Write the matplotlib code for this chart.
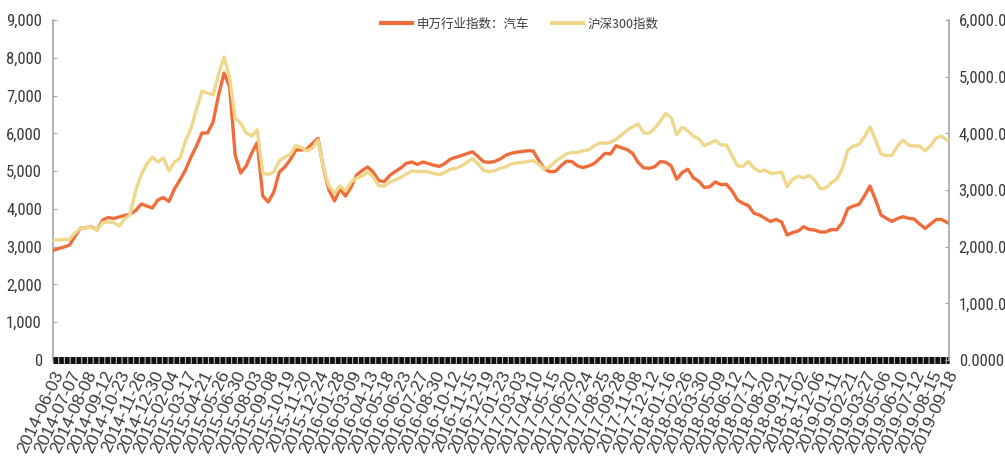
import numpy as np
import matplotlib
matplotlib.use("Agg")
import matplotlib.pyplot as plt
from matplotlib.lines import Line2D

plt.rcParams["lines.scale_dashes"] = False

# Category labels shown on the x axis (one every third sample)
date_labels = [
    "2014-06-03", "2014-07-07", "2014-08-08", "2014-09-12", "2014-10-23",
    "2014-11-26", "2014-12-30", "2015-02-04", "2015-03-17", "2015-04-21",
    "2015-05-26", "2015-06-30", "2015-08-03", "2015-09-08", "2015-10-19",
    "2015-11-20", "2015-12-24", "2016-01-28", "2016-03-09", "2016-04-13",
    "2016-05-18", "2016-06-23", "2016-07-27", "2016-08-30", "2016-10-12",
    "2016-11-15", "2016-12-19", "2017-01-23", "2017-03-03", "2017-04-10",
    "2017-05-15", "2017-06-20", "2017-07-24", "2017-08-25", "2017-09-28",
    "2017-11-08", "2017-12-12", "2018-01-16", "2018-02-26", "2018-03-30",
    "2018-05-09", "2018-06-12", "2018-07-17", "2018-08-20", "2018-09-21",
    "2018-11-02", "2018-12-06", "2019-01-11", "2019-02-21", "2019-03-27",
    "2019-05-06", "2019-06-10", "2019-07-12", "2019-08-15", "2019-09-18",
]
LABEL_EVERY = 3

# 申万行业指数：汽车 (left axis)
auto_index = [
    2898, 2951, 2991, 3044, 3282, 3494, 3507, 3521, 3441, 3706,
    3772, 3746, 3785, 3825, 3865, 3957, 4129, 4076, 4023, 4235,
    4301, 4196, 4526, 4765, 5029, 5373, 5665, 6009, 6009, 6300,
    7015, 7597, 7226, 5426, 4950, 5135, 5479, 5757, 4341, 4182,
    4447, 4976, 5109, 5307, 5559, 5559, 5585, 5731, 5868, 5082,
    4500, 4209, 4526, 4341, 4579, 4897, 5016, 5109, 4976, 4751,
    4720, 4884, 4990, 5082, 5207, 5241, 5175, 5241, 5201, 5154,
    5125, 5201, 5320, 5365, 5413, 5463, 5511, 5384, 5249, 5231,
    5252, 5320, 5416, 5471, 5500, 5519, 5540, 5532, 5281, 5061,
    4984, 4992, 5135, 5262, 5254, 5140, 5093, 5135, 5196, 5326,
    5471, 5453, 5673, 5617, 5572, 5471, 5233, 5087, 5074, 5114,
    5249, 5236, 5135, 4786, 4963, 5051, 4823, 4730, 4566, 4587,
    4714, 4640, 4653, 4481, 4235, 4148, 4084, 3883, 3838, 3748,
    3666, 3722, 3653, 3309, 3375, 3415, 3528, 3454, 3441, 3388,
    3388, 3454, 3446, 3640, 4010, 4076, 4116, 4341, 4606, 4248,
    3838, 3746, 3669, 3743, 3793, 3751, 3732, 3600, 3481, 3600,
    3719, 3719, 3640,
]

# 沪深300指数 (right axis)
csi300_index = [
    2118, 2118, 2126, 2130, 2241, 2329, 2338, 2338, 2294, 2426,
    2435, 2426, 2365, 2488, 2576, 3000, 3274, 3459, 3582, 3494,
    3565, 3335, 3494, 3559, 3865, 4085, 4429, 4747, 4712, 4676,
    5047, 5347, 4976, 4271, 4182, 4006, 3953, 4064, 3300, 3274,
    3318, 3512, 3582, 3626, 3789, 3750, 3688, 3741, 3882, 3388,
    3071, 2938, 3071, 2982, 3141, 3212, 3247, 3318, 3229, 3079,
    3067, 3141, 3176, 3221, 3282, 3335, 3326, 3323, 3321, 3289,
    3272, 3312, 3367, 3383, 3424, 3489, 3554, 3462, 3344, 3323,
    3339, 3383, 3406, 3459, 3476, 3487, 3503, 3521, 3455, 3371,
    3409, 3503, 3568, 3635, 3665, 3660, 3693, 3706, 3776, 3829,
    3824, 3840, 3895, 3969, 4054, 4114, 4165, 4009, 4001, 4085,
    4211, 4350, 4278, 3976, 4108, 4046, 3953, 3905, 3782, 3824,
    3875, 3799, 3794, 3612, 3427, 3418, 3503, 3388, 3325, 3353,
    3291, 3300, 3318, 3058, 3191, 3244, 3214, 3256, 3176, 3021,
    3035, 3127, 3194, 3379, 3706, 3776, 3803, 3935, 4115, 3891,
    3635, 3605, 3611, 3780, 3882, 3791, 3776, 3776, 3690, 3782,
    3918, 3949, 3874,
]

left_ticks = list(range(0, 9001, 1000))
right_ticks = list(range(0, 6001, 1000))

AUTO_COLOR = "#EE6D3B"
CSI_COLOR = "#EFD78B"
TEXT_COLOR = "#3a3a3a"
SPINE_COLOR = "#a6a6a6"
NUM_FONT = ["Roboto Condensed", "Liberation Sans", "DejaVu Sans"]
DATE_FONT = ["Liberation Sans", "DejaVu Sans"]
CJK_FONT = ["Noto Sans CJK SC", "DejaVu Sans"]

fig = plt.figure(figsize=(10.05, 4.68), dpi=100)
ax = fig.add_axes([53 / 1005, 108 / 468, 896 / 1005, 340 / 468])
ax2 = ax.twinx()

x = np.arange(len(auto_index))
ax.plot(x, auto_index, color=AUTO_COLOR, lw=2.4, solid_joinstyle="round", zorder=3)
ax2.plot(x, csi300_index, color=CSI_COLOR, lw=2.4, solid_joinstyle="round", zorder=3)

xmax = (len(x) - 1) * 896 / 894.2
ax.set_xlim(0, xmax)
ax.set_ylim(0, 9000)
ax2.set_ylim(0, 6000)

# spines
for a in (ax, ax2):
    a.spines["top"].set_visible(False)
    a.spines["bottom"].set_visible(False)
ax.spines["right"].set_visible(False)
ax2.spines["left"].set_visible(False)
ax.spines["left"].set_color(SPINE_COLOR)
ax2.spines["right"].set_color(SPINE_COLOR)
ax.spines["left"].set_linewidth(1.2)
ax2.spines["right"].set_linewidth(1.2)

# y axes
ax.set_yticks(left_ticks)
ax.set_yticklabels([f"{v:,}" for v in left_ticks], family=NUM_FONT, fontsize=12, color=TEXT_COLOR)
ax.tick_params(axis="y", direction="in", length=3, color=SPINE_COLOR, pad=8)
ax2.set_yticks(right_ticks)
ax2.set_yticklabels([f"{v:,.4f}" for v in right_ticks], family=NUM_FONT, fontsize=12, color=TEXT_COLOR)
ax2.tick_params(axis="y", direction="in", length=3, color=SPINE_COLOR, pad=7)

# x axis category labels
tick_pos = x[::LABEL_EVERY][:len(date_labels)]
ax.set_xticks(tick_pos)
ax.set_xticklabels(date_labels, rotation=65, ha="right", va="top", rotation_mode="anchor",
                   family=DATE_FONT, fontsize=12.5, color=TEXT_COLOR)
ax.tick_params(axis="x", length=0, pad=6)

# category axis band along zero
ax.plot([0, xmax], [0, 0], color="#b5b5b5", lw=5.0, solid_capstyle="butt", clip_on=False, zorder=4)
ax.plot([0, xmax], [0, 0], color="#111111", lw=5.0, dashes=(3.3, 0.85), dash_capstyle="butt",
        clip_on=False, zorder=5)

# legend
handles = [
    Line2D([], [], color=AUTO_COLOR, lw=3),
    Line2D([], [], color=CSI_COLOR, lw=3),
]
leg = ax2.legend(handles, ["申万行业指数：汽车", "沪深300指数"], loc="center",
                 bbox_to_anchor=(0.521, 0.988), ncol=2, frameon=False,
                 handlelength=2.5, handletextpad=0.35, columnspacing=1.8,
                 prop={"family": CJK_FONT, "size": 9})
for t in leg.get_texts():
    t.set_color(TEXT_COLOR)

fig.savefig("out.png", dpi=100)
